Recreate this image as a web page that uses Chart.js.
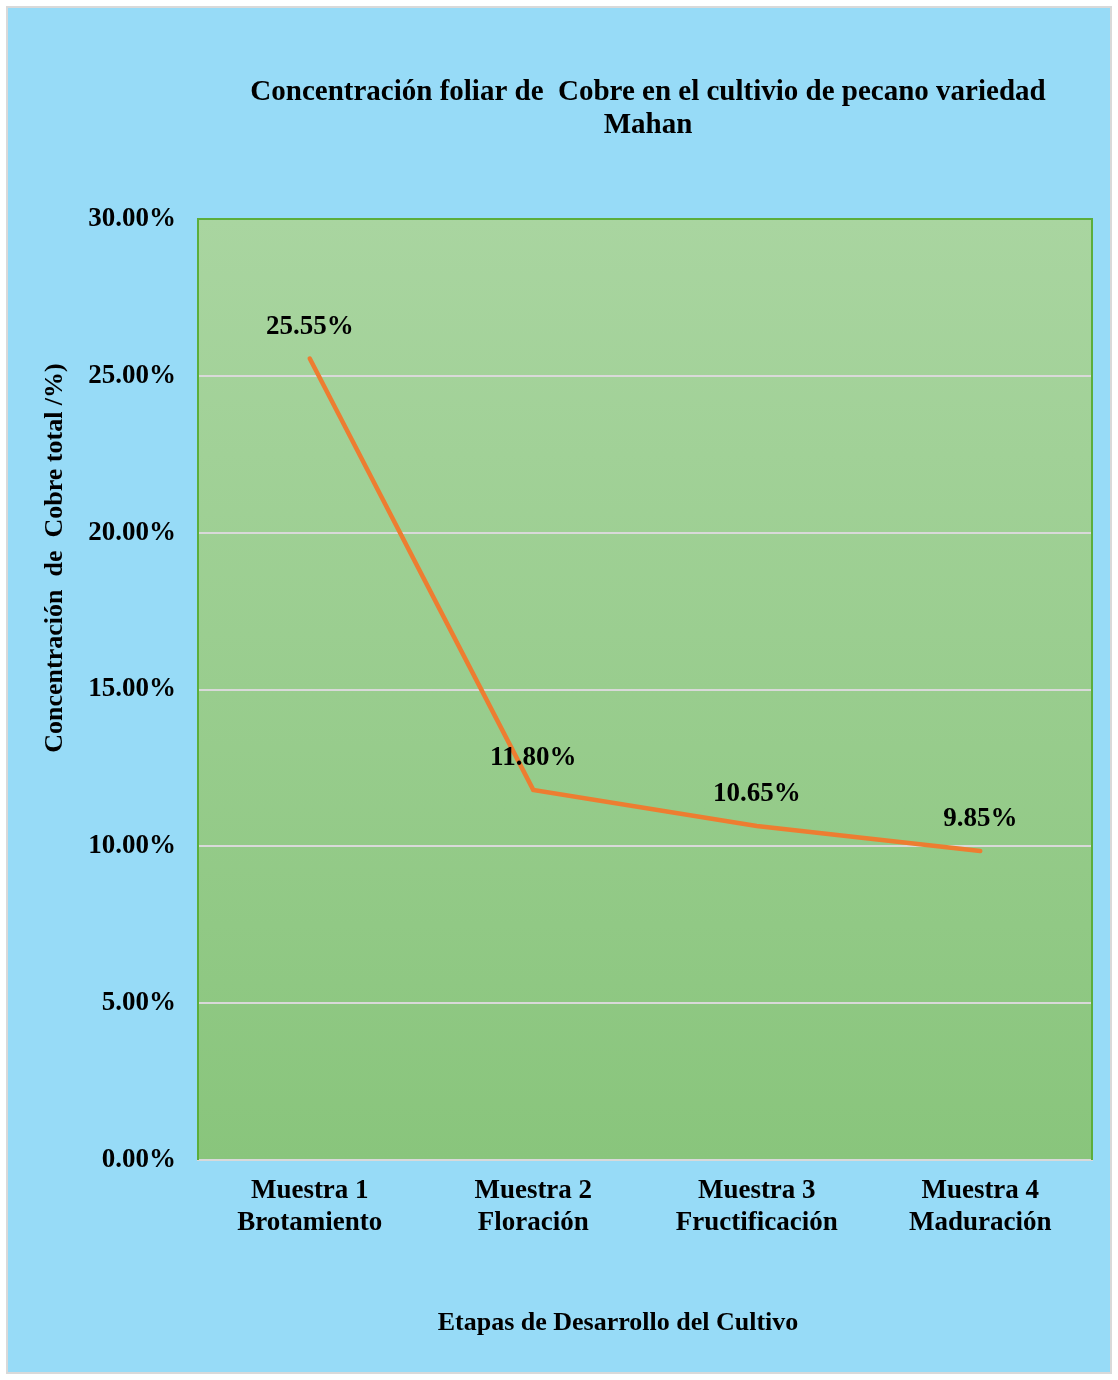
<!DOCTYPE html>
<html lang="es">
<head>
<meta charset="UTF-8">
<title>Concentración foliar de Cobre</title>
<script src="https://cdn.jsdelivr.net/npm/chart.js"></script>
<style>
  html, body { margin: 0; padding: 0; background: #fff; }
  #wrap { width: 1118px; height: 1380px; position: relative; }
</style>
</head>
<body>
<div id="wrap"><canvas id="chart"></canvas></div>
<script>
const etapas = [['Muestra 1', 'Brotamiento'], ['Muestra 2', 'Floración'], ['Muestra 3', 'Fructificación'], ['Muestra 4', 'Maduración']];
const cobre = [0.2555, 0.118, 0.1065, 0.0985];
const titulo = ['Concentración foliar de  Cobre en el cultivio de pecano variedad', 'Mahan'];
const tituloY = 'Concentración  de  Cobre total /%)';
const tituloX = 'Etapas de Desarrollo del Cultivo';

const FONT = '"Liberation Serif", "Times New Roman", serif';
const pct = v => (v * 100).toFixed(2) + '%';

const decor = {
  id: 'decor',
  beforeDraw(chart) {
    const { ctx, chartArea: a } = chart;
    ctx.save();
    ctx.fillStyle = '#ffffff';
    ctx.fillRect(0, 0, chart.width, chart.height);
    ctx.fillStyle = '#d9d9d9';
    ctx.fillRect(6, 6, 1106, 1368);
    ctx.fillStyle = '#97dbf7';
    ctx.fillRect(8, 8, 1102, 1364);
    const g = ctx.createLinearGradient(0, a.top, 0, a.bottom);
    g.addColorStop(0, '#a9d5a0');
    g.addColorStop(1, '#89c57c');
    ctx.fillStyle = g;
    ctx.fillRect(a.left, a.top, a.right - a.left, a.bottom - a.top);
    ctx.restore();
  },
  afterDraw(chart) {
    const { ctx, chartArea: a } = chart;
    ctx.save();
    // plot border (left, top, right)
    ctx.strokeStyle = '#5cae3c';
    ctx.lineWidth = 2;
    ctx.beginPath();
    ctx.moveTo(a.left, a.bottom);
    ctx.lineTo(a.left, a.top);
    ctx.lineTo(a.right, a.top);
    ctx.lineTo(a.right, a.bottom);
    ctx.stroke();

    ctx.fillStyle = '#000';
    ctx.textAlign = 'center';
    ctx.textBaseline = 'middle';
    ctx.font = 'bold 29px ' + FONT;
    ctx.fillText(titulo[0], 648, 93);
    ctx.fillText(titulo[1], 648, 126);

    ctx.font = 'bold 26px ' + FONT;
    ctx.fillText(tituloX, 618, 1323);
    ctx.translate(55, 558);
    ctx.rotate(-Math.PI / 2);
    ctx.fillText(tituloY, 0, 0);
    ctx.restore();

    // data labels
    ctx.save();
    ctx.font = 'bold 27px ' + FONT;
    ctx.fillStyle = '#000';
    ctx.textAlign = 'center';
    ctx.textBaseline = 'middle';
    chart.getDatasetMeta(0).data.forEach((p, i) => {
      ctx.fillText(pct(cobre[i]), p.x, p.y - 32);
    });
    ctx.restore();
  }
};

new Chart(document.getElementById('chart'), {
  type: 'line',
  data: {
    labels: etapas,
    datasets: [{
      data: cobre,
      borderColor: '#ed7d31',
      borderWidth: 4.5,
      pointRadius: 0,
      tension: 0,
      borderCapStyle: 'round'
    }]
  },
  options: {
    responsive: true,
    maintainAspectRatio: false,
    animation: false,
    layout: { padding: { left: 20, top: 219, right: 26, bottom: 10 } },
    plugins: { legend: { display: false }, tooltip: { enabled: false } },
    scales: {
      x: {
        offset: true,
        afterFit: s => { s.height = 1380 - 1160 - 10; },
        grid: { display: false, drawTicks: false },
        border: { color: '#d9d9d9', width: 2 },
        ticks: { color: '#000', padding: 16, maxRotation: 0, font: { family: FONT, size: 27, weight: 'bold', lineHeight: 1.15 } }
      },
      y: {
        min: 0,
        max: 0.3,
        afterFit: s => { s.width = 198 - 20; },
        grid: { color: '#d9d9d9', lineWidth: 2, drawTicks: false },
        border: { display: false },
        ticks: { stepSize: 0.05, color: '#000', padding: 22, callback: v => pct(v), font: { family: FONT, size: 27, weight: 'bold' } }
      }
    }
  },
  plugins: [decor]
});
</script>
</body>
</html>
